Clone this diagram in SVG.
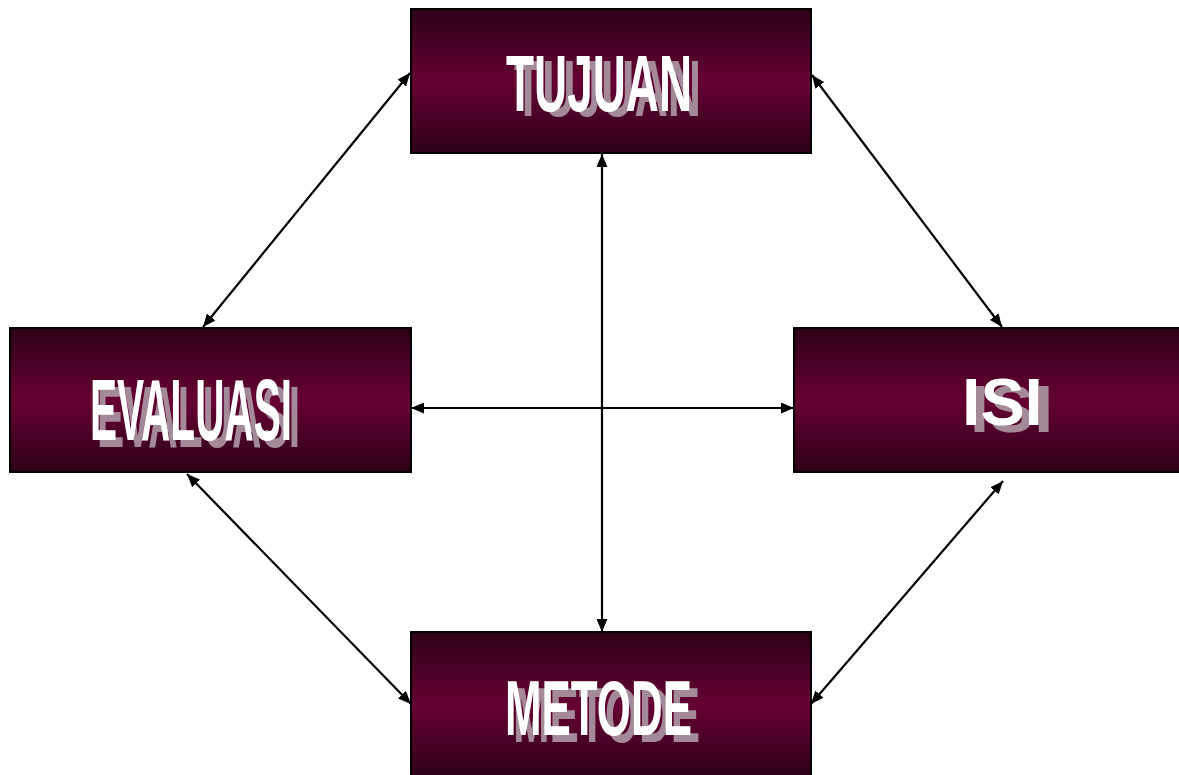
<svg xmlns="http://www.w3.org/2000/svg" width="1179" height="775" viewBox="0 0 1179 775">
<defs>
<linearGradient id="g" x1="0" y1="0" x2="0" y2="1">
<stop offset="0" stop-color="#2c0016"/>
<stop offset="0.5" stop-color="#660033"/>
<stop offset="1" stop-color="#2c0016"/>
</linearGradient>
<marker id="ah" viewBox="0 0 13 11" refX="13" refY="5.5" markerWidth="13" markerHeight="11" markerUnits="userSpaceOnUse" orient="auto-start-reverse">
<path d="M0,0 L13,5.5 L0,11 Z" fill="#000"/>
</marker>
</defs>
<style>
.box{fill:url(#g);stroke:#000;stroke-width:2}
.t{font-family:"Liberation Sans",Arial,sans-serif;font-weight:bold}
.w{fill:#fff}
.s{fill:#a48a98}
.c line{stroke:#000;stroke-width:2.2;marker-start:url(#ah);marker-end:url(#ah)}
</style>
<rect width="1179" height="775" fill="#fff"/>
<g class="c" id="connectors">
<line x1="410" y1="73" x2="203" y2="327"/>
<line x1="812" y1="75" x2="1002" y2="327"/>
<line x1="602" y1="154" x2="602" y2="632"/>
<line x1="411" y1="408" x2="794" y2="408"/>
<line x1="187" y1="474" x2="411" y2="704"/>
<line x1="1003" y1="481" x2="811" y2="704"/>
</g>
<g id="tujuan">
<rect class="box" x="411" y="9" width="400" height="144"/>
<text class="t s" x="514" y="116" font-size="80" textLength="187" lengthAdjust="spacingAndGlyphs">TUJUAN</text>
<text class="t w" x="506" y="111" font-size="80" textLength="186" lengthAdjust="spacingAndGlyphs">TUJUAN</text>
</g>
<g id="evaluasi">
<rect class="box" x="10" y="328" width="401" height="144"/>
<text class="t s" x="97" y="447" font-size="88" textLength="203" lengthAdjust="spacingAndGlyphs">EVALUASI</text>
<text class="t w" x="90" y="440" font-size="88" textLength="202" lengthAdjust="spacingAndGlyphs">EVALUASI</text>
</g>
<g id="isi">
<rect class="box" x="794" y="328" width="390" height="144"/>
<text class="t s" x="970" y="432" font-size="67" textLength="83" lengthAdjust="spacingAndGlyphs">ISI</text>
<text class="t w" x="962" y="425" font-size="67" textLength="81" lengthAdjust="spacingAndGlyphs">ISI</text>
</g>
<g id="metode">
<rect class="box" x="411" y="632" width="400" height="146"/>
<text class="t s" x="513" y="742" font-size="77" textLength="187" lengthAdjust="spacingAndGlyphs">METODE</text>
<text class="t w" x="505" y="735" font-size="77" textLength="187" lengthAdjust="spacingAndGlyphs">METODE</text>
</g>
</svg>
